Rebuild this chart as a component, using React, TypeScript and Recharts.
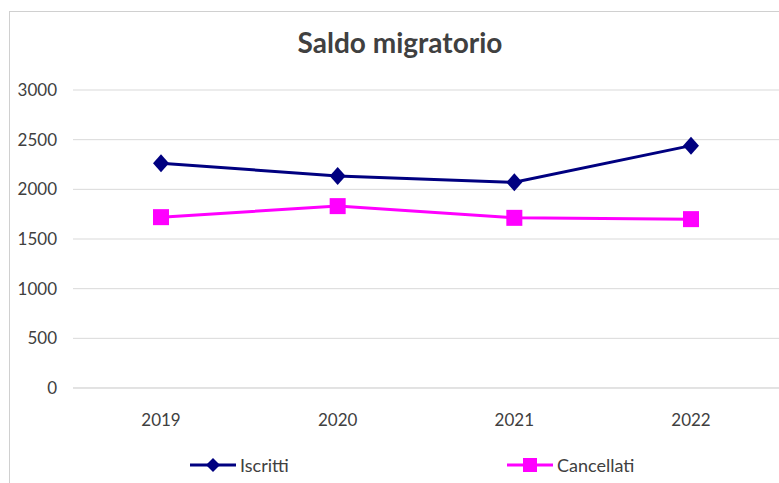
import { CartesianGrid, Line, LineChart, XAxis, YAxis } from 'recharts';

const years = ['2019', '2020', '2021', '2022'];
const iscritti = [2263, 2134, 2071, 2440];
const cancellati = [1720, 1831, 1713, 1700];
const yTicks = [0, 500, 1000, 1500, 2000, 2500, 3000];

const NAVY = '#000080';
const MAGENTA = '#ff00ff';
const FONT = 'Lato, "Open Sans", sans-serif';

const data = years.map((y, i) => ({ year: y, iscritti: iscritti[i], cancellati: cancellati[i] }));

function Diamond({ cx, cy }: { cx?: number; cy?: number }) {
  if (cx == null || cy == null) return null;
  return <polygon points={`${cx},${cy - 9} ${cx + 8},${cy} ${cx},${cy + 9} ${cx - 8},${cy}`} fill={NAVY} />;
}

function Square({ cx, cy }: { cx?: number; cy?: number }) {
  if (cx == null || cy == null) return null;
  return <rect x={cx - 8} y={cy - 8} width={16} height={16} fill={MAGENTA} />;
}

function LegendBox() {
  const item = (left: number, color: string, label: string, square: boolean) => (
    <div style={{ position: 'absolute', left, top: 0, display: 'flex', alignItems: 'center', height: 24 }}>
      <svg width={46} height={20}>
        <line x1={0} y1={10} x2={46} y2={10} stroke={color} strokeWidth={3} />
        {square ? (
          <rect x={16} y={3} width={14} height={14} fill={color} />
        ) : (
          <polygon points="23,3 30,10 23,17 16,10" fill={color} />
        )}
      </svg>
      <span style={{ marginLeft: 4, fontSize: 18, color: '#404040', fontFamily: FONT }}>{label}</span>
    </div>
  );
  return (
    <div style={{ position: 'absolute', left: 0, top: 441, width: 769, height: 24 }}>
      {item(180, NAVY, 'Iscritti', false)}
      {item(497, MAGENTA, 'Cancellati', true)}
    </div>
  );
}

export default function App() {
  return (
    <div
      style={{
        position: 'absolute',
        left: 9,
        top: 11,
        width: 770,
        height: 472,
        borderLeft: '1px solid #d0d0d0',
        borderTop: '1px solid #d0d0d0',
        background: '#fff',
        fontFamily: FONT,
      }}
    >
      <div
        style={{
          position: 'absolute',
          top: 13,
          left: 0,
          width: 780,
          textAlign: 'center',
          fontSize: 28,
          fontWeight: 700,
          color: '#404040',
        }}
      >
        Saldo migratorio
      </div>
      <LineChart width={769} height={471} data={data} margin={{ top: 78, right: 0, bottom: 65, left: 0 }}>
        <CartesianGrid vertical={false} stroke="#d9d9d9" strokeWidth={1} />
        <XAxis
          dataKey="year"
          padding={{ left: 88, right: 88 }}
          axisLine={{ stroke: '#d9d9d9' }}
          tickLine={false}
          tickSize={0}
          tickMargin={26}
          tick={{ fill: '#404040', fontSize: 17, fontFamily: FONT }}
        />
        <YAxis
          width={63}
          domain={[0, 3000]}
          ticks={yTicks}
          axisLine={false}
          tickLine={false}
          tickSize={0}
          tickMargin={16}
          tick={{ fill: '#404040', fontSize: 17, fontFamily: FONT }}
        />
        <Line
          dataKey="iscritti"
          name="Iscritti"
          stroke={NAVY}
          strokeWidth={3}
          dot={<Diamond />}
          activeDot={false}
          isAnimationActive={false}
        />
        <Line
          dataKey="cancellati"
          name="Cancellati"
          stroke={MAGENTA}
          strokeWidth={3}
          dot={<Square />}
          activeDot={false}
          isAnimationActive={false}
        />
      </LineChart>
      <LegendBox />
    </div>
  );
}
